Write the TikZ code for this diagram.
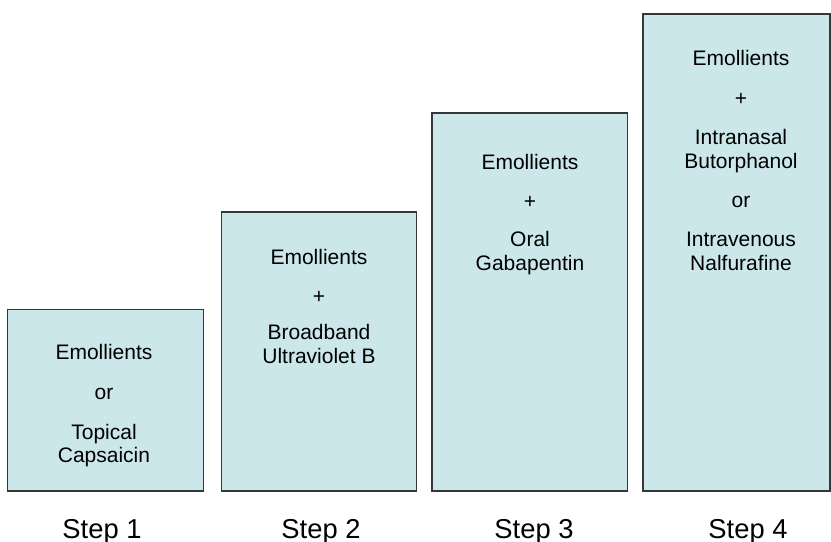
\documentclass[tikz,border=0pt]{standalone}
\usepackage{fontspec}
\setmainfont{Liberation Sans}

\definecolor{boxfill}{RGB}{203,231,234}
\definecolor{boxline}{RGB}{55,55,55}

\tikzset{every picture/.style={line width=0.75pt}}
\tikzset{
  stepbox/.style={draw=boxline,fill=boxfill,line width=1.1pt},
  boxtext/.style={anchor=base,inner sep=0pt,font=\fontsize{15.75}{18}\selectfont},
  steplabel/.style={anchor=base,inner sep=0pt,font=\fontsize{20.5}{24}\selectfont}
}

\begin{document}
\begin{tikzpicture}[x=0.75pt,y=0.75pt,yscale=-1,xscale=1]
\useasboundingbox (0,0) rectangle (831,542);
%Shape: Rectangle [step 1]
\draw [stepbox] (7.5,309.5) rectangle (203.5,491) ;
%Shape: Rectangle [step 2]
\draw [stepbox] (221.5,212) rectangle (416.5,491) ;
%Shape: Rectangle [step 3]
\draw [stepbox] (432,113) rectangle (627.5,491) ;
%Shape: Rectangle [step 4]
\draw [stepbox] (643,14) rectangle (830,491) ;
% Text Node
\node (emoA) [boxtext] at (104,359) {Emollients};
\node (orA) [boxtext] at (104,399) {or};
\node (topA) [boxtext] at (104,439) {Topical};
\node (capA) [boxtext] at (104,462.5) {Capsaicin};
% Text Node
\node (emoB) [boxtext] at (319,264) {Emollients};
\node (plusB) [boxtext] at (319,303.5) {+};
\node (broB) [boxtext] at (319,339.5) {Broadband};
\node (uvbB) [boxtext] at (319,363) {Ultraviolet B};
% Text Node
\node (emoC) [boxtext] at (530,169) {Emollients};
\node (plusC) [boxtext] at (530,208.5) {+};
\node (oraC) [boxtext] at (530,246.5) {Oral};
\node (gabC) [boxtext] at (530,270.5) {Gabapentin};
% Text Node
\node (emoD) [boxtext] at (741,65.5) {Emollients};
\node (plusD) [boxtext] at (741,105) {+};
\node (intD) [boxtext] at (741,144) {Intranasal};
\node (butD) [boxtext] at (741,168) {Butorphanol};
\node (orD) [boxtext] at (741,207) {or};
\node (ivD) [boxtext] at (741,246.5) {Intravenous};
\node (nalD) [boxtext] at (741,270) {Nalfurafine};
% Text Node
\node (stepA) [steplabel] at (102,538) {Step 1};
\node (stepB) [steplabel] at (321,538) {Step 2};
\node (stepC) [steplabel] at (534,538) {Step 3};
\node (stepD) [steplabel] at (748,538) {Step 4};
\end{tikzpicture}
\end{document}
